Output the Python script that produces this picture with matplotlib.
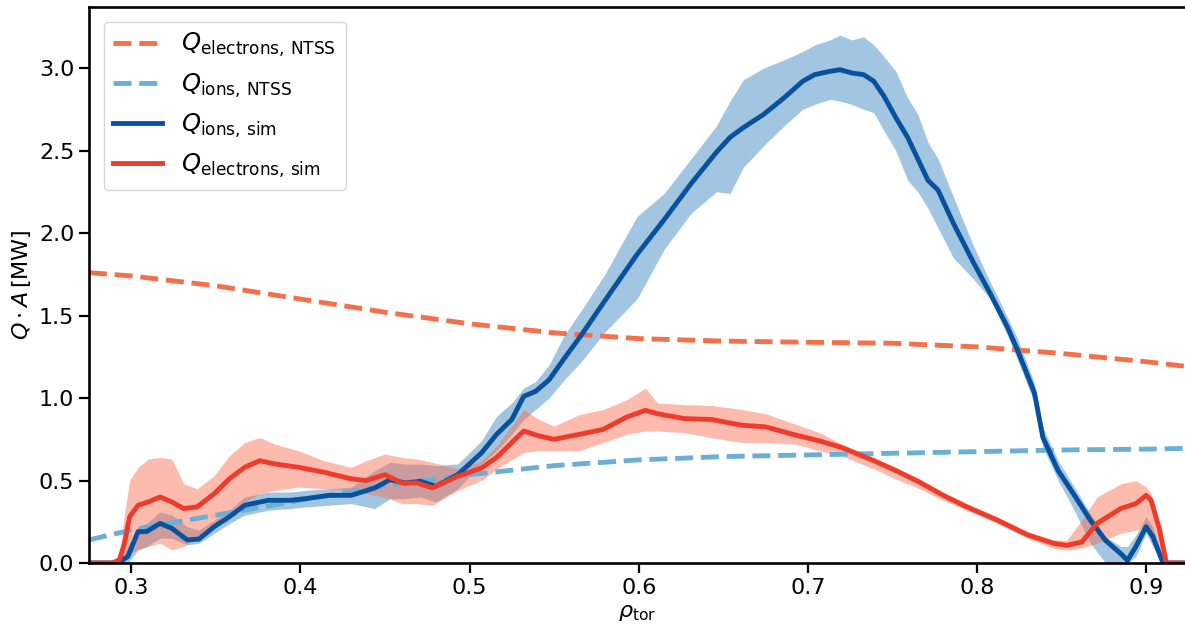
import numpy as np
import matplotlib
matplotlib.use("Agg")
import matplotlib.pyplot as plt

# NTSS reference profiles
rho_ntss = [0.275, 0.30, 0.35, 0.40, 0.45, 0.50, 0.55, 0.60, 0.65, 0.70, 0.75, 0.80, 0.85, 0.90, 0.925]
qe_ntss = [1.76, 1.74, 1.68, 1.60, 1.52, 1.45, 1.395, 1.36, 1.345, 1.338, 1.332, 1.31, 1.27, 1.22, 1.19]
qi_ntss = [0.14, 0.20, 0.29, 0.38, 0.47, 0.535, 0.59, 0.625, 0.645, 0.655, 0.665, 0.675, 0.685, 0.69, 0.695]

# simulated ion heat flux (mean, lower, upper)
rho_i = [0.275, 0.29, 0.293, 0.298, 0.304, 0.309, 0.317, 0.324, 0.333, 0.340, 0.349, 0.358,
         0.367, 0.381, 0.394, 0.403, 0.417, 0.430, 0.444, 0.453, 0.462, 0.471, 0.480, 0.493,
         0.507, 0.516, 0.525, 0.532, 0.539, 0.547, 0.556, 0.566, 0.580, 0.599, 0.615, 0.631,
         0.646, 0.654, 0.662, 0.674, 0.686, 0.697, 0.704, 0.713, 0.719, 0.726, 0.733, 0.739,
         0.745, 0.752, 0.759, 0.765, 0.771, 0.777, 0.786, 0.798, 0.808, 0.818, 0.824, 0.834,
         0.839, 0.848, 0.857, 0.867, 0.876, 0.885, 0.889, 0.894, 0.900, 0.904, 0.910, 0.925]
qi_sim = [0, 0, 0.005, 0.04, 0.19, 0.19, 0.24, 0.21, 0.14, 0.145, 0.22, 0.28,
          0.35, 0.38, 0.38, 0.39, 0.41, 0.41, 0.455, 0.505, 0.485, 0.495, 0.465, 0.535,
          0.667, 0.78, 0.87, 1.01, 1.04, 1.11, 1.24, 1.38, 1.59, 1.87, 2.08, 2.30,
          2.49, 2.58, 2.64, 2.72, 2.82, 2.92, 2.96, 2.98, 2.99, 2.97, 2.96, 2.92,
          2.83, 2.70, 2.58, 2.45, 2.32, 2.26, 2.06, 1.82, 1.63, 1.43, 1.29, 1.03,
          0.76, 0.56, 0.42, 0.26, 0.137, 0.057, 0.016, 0.10, 0.22, 0.16, 0, 0]
qi_lo = [0, 0, 0, 0, 0.08, 0.10, 0.15, 0.15, 0.11, 0.12, 0.18, 0.24,
         0.29, 0.32, 0.33, 0.34, 0.35, 0.36, 0.33, 0.39, 0.39, 0.40, 0.37, 0.45,
         0.60, 0.68, 0.78, 0.87, 0.93, 1.00, 1.11, 1.22, 1.40, 1.60, 1.90, 2.12,
         2.25, 2.24, 2.40, 2.53, 2.65, 2.75, 2.78, 2.81, 2.80, 2.78, 2.75, 2.73,
         2.62, 2.50, 2.32, 2.25, 2.15, 2.03, 1.85, 1.72, 1.60, 1.38, 1.23, 0.97,
         0.70, 0.50, 0.33, 0.12, 0, 0, 0, 0.04, 0.18, 0.10, 0, 0]
qi_hi = [0, 0, 0.01, 0.10, 0.22, 0.24, 0.31, 0.29, 0.22, 0.20, 0.26, 0.32,
         0.40, 0.43, 0.43, 0.44, 0.45, 0.46, 0.56, 0.61, 0.60, 0.60, 0.59, 0.60,
         0.74, 0.89, 0.97, 1.06, 1.10, 1.20, 1.38, 1.53, 1.75, 2.10, 2.24, 2.45,
         2.65, 2.80, 2.93, 3.00, 3.05, 3.10, 3.14, 3.17, 3.20, 3.17, 3.19, 3.14,
         3.07, 2.98, 2.82, 2.72, 2.55, 2.45, 2.22, 1.92, 1.70, 1.49, 1.36, 1.09,
         0.82, 0.62, 0.47, 0.30, 0.16, 0.10, 0.10, 0.17, 0.28, 0.22, 0.02, 0]

# simulated electron heat flux (mean, lower, upper)
rho_e = [0.275, 0.289, 0.293, 0.296, 0.299, 0.304, 0.310, 0.317, 0.324, 0.331, 0.339, 0.349,
         0.358, 0.367, 0.376, 0.385, 0.399, 0.414, 0.430, 0.439, 0.450, 0.460, 0.469, 0.478,
         0.493, 0.507, 0.516, 0.532, 0.541, 0.550, 0.565, 0.579, 0.593, 0.604, 0.611, 0.627,
         0.643, 0.661, 0.675, 0.693, 0.707, 0.720, 0.739, 0.752, 0.766, 0.780, 0.794, 0.812,
         0.830, 0.845, 0.853, 0.862, 0.871, 0.885, 0.894, 0.900, 0.903, 0.908, 0.912, 0.925]
qe_sim = [0, 0, 0.02, 0.12, 0.28, 0.35, 0.37, 0.40, 0.37, 0.33, 0.34, 0.42,
          0.51, 0.58, 0.62, 0.60, 0.58, 0.55, 0.51, 0.50, 0.535, 0.485, 0.485, 0.455,
          0.525, 0.575, 0.64, 0.80, 0.77, 0.75, 0.78, 0.81, 0.885, 0.925, 0.905, 0.875,
          0.87, 0.835, 0.825, 0.775, 0.74, 0.70, 0.62, 0.56, 0.49, 0.41, 0.34, 0.26,
          0.17, 0.12, 0.107, 0.127, 0.24, 0.33, 0.36, 0.41, 0.38, 0.20, 0, 0]
qe_lo = [0, 0, 0, 0.02, 0.06, 0.08, 0.10, 0.12, 0.08, 0.10, 0.16, 0.24,
         0.30, 0.37, 0.42, 0.44, 0.46, 0.45, 0.44, 0.42, 0.40, 0.36, 0.36, 0.35,
         0.44, 0.50, 0.57, 0.67, 0.68, 0.68, 0.68, 0.73, 0.78, 0.80, 0.80, 0.79,
         0.76, 0.73, 0.73, 0.72, 0.68, 0.65, 0.57, 0.51, 0.45, 0.38, 0.32, 0.24,
         0.15, 0.09, 0.077, 0.09, 0.12, 0.18, 0.20, 0.22, 0.20, 0.05, 0, 0]
qe_hi = [0, 0, 0.04, 0.30, 0.50, 0.58, 0.63, 0.64, 0.63, 0.48, 0.45, 0.53,
         0.65, 0.73, 0.76, 0.72, 0.68, 0.62, 0.58, 0.62, 0.66, 0.64, 0.63, 0.61,
         0.57, 0.62, 0.71, 0.93, 0.87, 0.83, 0.90, 0.93, 0.99, 1.06, 0.97, 0.96,
         0.955, 0.93, 0.905, 0.84, 0.79, 0.72, 0.64, 0.58, 0.51, 0.43, 0.36, 0.28,
         0.19, 0.14, 0.137, 0.26, 0.40, 0.48, 0.50, 0.46, 0.42, 0.20, 0.0, 0]

fig = plt.figure(figsize=(11.85, 6.25), dpi=100)
ax = fig.add_axes([89 / 1185, 62 / 625, 1096 / 1185, 556 / 625])

lw = 3.5
ax.plot(rho_ntss, qe_ntss, '--', color='#f4704a', lw=lw, label=r'$Q_{\mathrm{electrons,\,NTSS}}$')
ax.plot(rho_ntss, qi_ntss, '--', color='#6baed6', lw=lw, label=r'$Q_{\mathrm{ions,\,NTSS}}$')

ax.fill_between(rho_i, qi_lo, qi_hi, color='#3182bd', alpha=0.45, lw=0)
ax.fill_between(rho_e, qe_lo, qe_hi, color='#fb6a4a', alpha=0.45, lw=0)

ax.plot(rho_i, qi_sim, color='#08519c', lw=lw, solid_joinstyle='round',
        label=r'$Q_{\mathrm{ions,\,sim}}$')
ax.plot(rho_e, qe_sim, color='#ef3b2c', lw=lw, solid_joinstyle='round',
        label=r'$Q_{\mathrm{electrons,\,sim}}$')

ax.set_xlim(0.275, 0.923)
ax.set_ylim(0, 3.37)
ax.set_xticks([0.3, 0.4, 0.5, 0.6, 0.7, 0.8, 0.9])
ax.set_yticks([0.0, 0.5, 1.0, 1.5, 2.0, 2.5, 3.0])

for side in ['left', 'bottom', 'top']:
    ax.spines[side].set_linewidth(1.9)
ax.spines['right'].set_visible(False)
ax.tick_params(axis='both', labelsize=16, length=7, width=1.6, direction='out')

ax.set_xlabel(r'$\rho_{\mathrm{tor}}$', fontsize=16, labelpad=4)
ax.set_ylabel(r'$Q \cdot A\,[\mathrm{MW}]$', fontsize=16)

ax.legend(loc='upper left', fontsize=17.5, borderaxespad=0.6)

fig.savefig('out.png', dpi=100)
